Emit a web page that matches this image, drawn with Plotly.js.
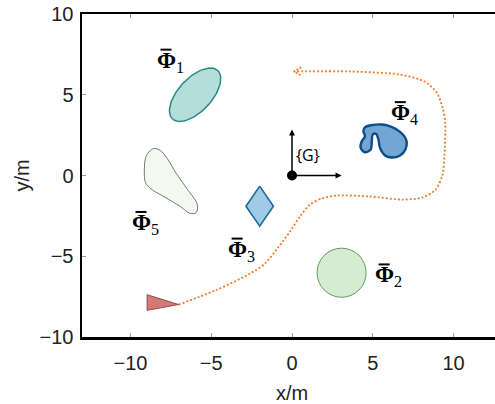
<!DOCTYPE html>
<html>
<head>
<meta charset="utf-8">
<script src="https://cdn.plot.ly/plotly-3.0.1.min.js"></script>
<style>
html,body{margin:0;padding:0;overflow:hidden;background:#fff;}
#chart{width:502px;height:404px;}
</style>
</head>
<body>
<div id="chart"></div>
<script>
// ---- data (x/m, y/m) ----
const xTicks = [-10, -5, 0, 5, 10];
const yTicks = [-10, -5, 0, 5, 10];

// Phi1: tilted ellipse (center, semi-axes, angle in degrees)
const phi1Center = [-6.0, 5.0];
const phi1Radii = [2.05, 1.03];
const phi1Angle = [47];

// Phi2: circle (center, radius)
const phi2Center = [3.07, -6.02];
const phi2Radius = [1.52];

// Phi3: diamond
const phi3X = [-2.0, -1.15, -2.0, -2.85, -2.0];
const phi3Y = [-0.66, -1.9, -3.14, -1.9, -0.66];

// Phi4: blob
const phi4X = [4.52, 5.55, 6.48, 7.06, 7.02, 6.69, 6.19, 5.76, 5.45, 5.35, 5.20, 5.00, 4.94, 4.87, 4.52, 4.25, 4.32, 4.52, 4.42, 4.52];
const phi4Y = [2.99, 3.16, 2.85, 2.23, 1.61, 1.24, 1.11, 1.24, 1.71, 2.23, 2.58, 2.54, 2.12, 1.61, 1.44, 1.71, 2.12, 2.43, 2.74, 2.99];

// Phi5: blob
const phi5X = [-8.58, -9.01, -9.14, -9.07, -8.77, -7.84, -6.91, -6.30, -5.93, -5.86, -6.42, -7.16, -7.72, -8.15, -8.58];
const phi5Y = [1.67, 1.24, 0.37, -0.43, -0.80, -1.36, -1.92, -2.35, -2.29, -1.80, -0.93, 0.12, 1.05, 1.55, 1.67];

// trajectory
const pathX = [-7.02, -4.75, -2.59, -1.67, -0.86, -0.12, 0.49, 1.11, 1.85, 2.78, 4.81, 6.85, 8.09, 8.89, 9.32, 9.44, 9.48, 9.32, 8.95, 8.21, 6.67, 3.58, 0.12];
const pathY = [-7.99, -7.12, -6.07, -5.45, -4.46, -3.47, -2.54, -1.80, -1.42, -1.24, -1.30, -1.49, -1.36, -0.87, 0.06, 1.30, 3.34, 4.21, 5.14, 5.82, 6.25, 6.44, 6.44];
// open arrow head at the end of the trajectory
const headX = [0.58, 0.12, 0.58];
const headY = [6.70, 6.44, 6.18];

// vehicle triangle
const triX = [-8.97, -8.97, -7.02, -8.97];
const triY = [-7.38, -8.35, -7.99, -7.38];

// frame {G}
const frameOrigin = [0, 0];
const frameXTip = [3.07, 0];
const frameYTip = [0, 2.85];
const frameLabel = ['{G}'];

// region labels
const labelText = ['1', '2', '3', '4', '5'];
const labelX = [-7.55, 5.95, -3.15, 6.95, -9.1];
const labelY = [7.05, -6.25, -4.65, 3.8, -3.0];

// ---- build ----
const ex = [], ey = [];
const th = phi1Angle[0] * Math.PI / 180;
for (let i = 0; i <= 90; i++) {
  const t = 2 * Math.PI * i / 90;
  const u = phi1Radii[0] * Math.cos(t), v = phi1Radii[1] * Math.sin(t);
  ex.push(phi1Center[0] + u * Math.cos(th) - v * Math.sin(th));
  ey.push(phi1Center[1] + u * Math.sin(th) + v * Math.cos(th));
}

const orange = '#f07c2c';
const traces = [
  {x: ex, y: ey, mode: 'lines', fill: 'toself', fillcolor: '#b4dedb',
   line: {color: '#2b8a7e', width: 1.5}, hoverinfo: 'skip'},
  {x: phi5X, y: phi5Y, mode: 'lines', fill: 'toself', fillcolor: '#f3f9ee',
   line: {color: '#555555', width: 0.8, shape: 'spline', smoothing: 1}, hoverinfo: 'skip'},
  {x: phi3X, y: phi3Y, mode: 'lines', fill: 'toself', fillcolor: '#9fcbe6',
   line: {color: '#1f6a94', width: 1.6}, hoverinfo: 'skip'},
  {x: phi4X, y: phi4Y, mode: 'lines', fill: 'toself', fillcolor: '#74a6d4',
   line: {color: '#0f4d87', width: 2.4, shape: 'spline', smoothing: 0.9}, hoverinfo: 'skip'},
  {x: pathX, y: pathY, mode: 'lines',
   line: {color: orange, width: 1.8, dash: '2px,2px', shape: 'spline', smoothing: 0.8}, hoverinfo: 'skip'},
  {x: headX, y: headY, mode: 'lines',
   line: {color: orange, width: 1.6, dash: '2px,1.5px'}, hoverinfo: 'skip'},
  {x: triX, y: triY, mode: 'lines', fill: 'toself', fillcolor: '#d67878',
   line: {color: '#8e4a4a', width: 1}, hoverinfo: 'skip'},
  {x: [frameOrigin[0]], y: [frameOrigin[1]], mode: 'markers',
   marker: {color: '#000', size: 10}, hoverinfo: 'skip'}
];

const annotations = [
  {x: frameXTip[0], y: frameXTip[1], ax: frameOrigin[0], ay: frameOrigin[1],
   xref: 'x', yref: 'y', axref: 'x', ayref: 'y', text: '', showarrow: true,
   arrowhead: 2, arrowsize: 0.8, arrowwidth: 1.5, arrowcolor: '#000'},
  {x: frameYTip[0], y: frameYTip[1], ax: frameOrigin[0], ay: frameOrigin[1],
   xref: 'x', yref: 'y', axref: 'x', ayref: 'y', text: '', showarrow: true,
   arrowhead: 2, arrowsize: 0.8, arrowwidth: 1.5, arrowcolor: '#000'},
  {x: frameOrigin[0], y: frameOrigin[1] + 0.45, xref: 'x', yref: 'y', text: frameLabel[0],
   showarrow: false, xanchor: 'left', yanchor: 'bottom', xshift: 2,
   font: {family: 'Open Sans', size: 16, color: '#000'}}
];
const shapes = [
  {type: 'circle', xref: 'x', yref: 'y',
   x0: phi2Center[0] - phi2Radius[0], x1: phi2Center[0] + phi2Radius[0],
   y0: phi2Center[1] - phi2Radius[0], y1: phi2Center[1] + phi2Radius[0],
   fillcolor: '#d5ecd3', line: {color: '#5f9c5f', width: 1}, layer: 'below'}
];
for (let i = 0; i < labelText.length; i++) {
  annotations.push({
    x: labelX[i], y: labelY[i], xref: 'x', yref: 'y', showarrow: false,
    text: '<b>\u03A6</b><sub>' + labelText[i] + '</sub>',
    font: {family: 'Liberation Serif', size: 23, color: '#000'}
  });
  // macron bar over the Phi, offset in pixels from the label anchor
  shapes.push({
    type: 'line', xref: 'x', yref: 'y',
    xsizemode: 'pixel', ysizemode: 'pixel',
    xanchor: labelX[i], yanchor: labelY[i],
    x0: -9.5, x1: 1.5, y0: 12, y1: 12,
    line: {color: '#000', width: 2}, layer: 'above'
  });
}

const axisCommon = {
  showline: true, linecolor: '#000', linewidth: 2.5, mirror: 'ticks',
  ticks: 'inside', ticklen: 4, tickwidth: 1, tickcolor: '#999',
  showgrid: false, zeroline: false,
  tickfont: {family: 'Liberation Sans, Arial', size: 20, color: '#222'}
};

const layout = {
  width: 502, height: 404,
  margin: {l: 82, r: 0, t: 14, b: 67},
  paper_bgcolor: '#fff', plot_bgcolor: '#fff',
  showlegend: false,
  xaxis: Object.assign({}, axisCommon, {
    range: [-13, 13], tickvals: xTicks, ticklabelstandoff: 6,
    title: {text: 'x/m', font: {family: 'Liberation Sans, Arial', size: 20, color: '#222'}, standoff: 16}
  }),
  yaxis: Object.assign({}, axisCommon, {
    range: [-10, 10], tickvals: yTicks, ticklabelstandoff: 2,
    title: {text: 'y/m', font: {family: 'Liberation Sans, Arial', size: 20, color: '#222'}, standoff: 5}
  }),
  shapes: shapes,
  annotations: annotations
};

Plotly.newPlot('chart', traces, layout, {staticPlot: true, displayModeBar: false});
</script>
</body>
</html>
